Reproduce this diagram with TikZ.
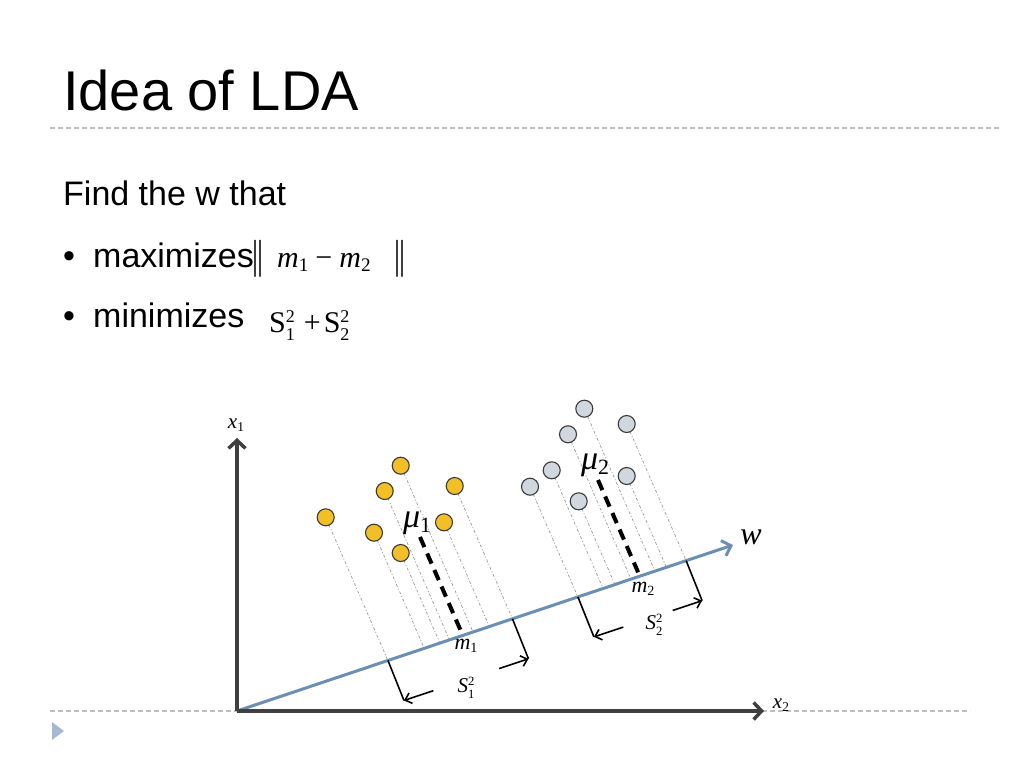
\documentclass[tikz,border=0pt]{standalone}
\usepackage{fontspec}
\setmainfont{Liberation Sans}
\newfontfamily\tms{Liberation Serif}
\usepackage{graphicx}
\usetikzlibrary{arrows.meta,calc}
\definecolor{dotc}{HTML}{9A9A9A}
\definecolor{ycol}{HTML}{F2BF26}
\definecolor{gcol}{HTML}{D0D7DF}
\definecolor{wcol}{HTML}{6A8FB3}
\definecolor{axc}{HTML}{404040}
\definecolor{sepc}{HTML}{BFBFBF}
\definecolor{tric}{HTML}{A6B9D2}
\definecolor{ptline}{HTML}{3A3A3A}
\newcommand\sbx[1]{\raisebox{-0.35ex}{\scalebox{0.64}{\upshape #1}}}
\newcommand\lss[3]{#1\raisebox{-0.6ex}{\scalebox{0.6}{\shortstack[l]{\upshape #3\\[0.22em]\upshape #2}}}}
\tikzset{
  txt/.style={anchor=base west,inner sep=0pt},
  body/.style={txt,font=\fontsize{34}{40}\selectfont},
  ypt/.style={circle,draw=ptline,fill=ycol,line width=1.1pt,minimum size=17pt,inner sep=0pt},
  gpt/.style={circle,draw=ptline,fill=gcol,line width=1.1pt,minimum size=17pt,inner sep=0pt},
  proj/.style={draw=dotc,line width=0.7pt,dash pattern=on 3pt off 2pt on 1pt off 2pt},
  mudash/.style={draw=black,line width=4pt,dash pattern=on 11pt off 7pt},
  axisline/.style={draw=axc,line width=3.5pt,-{Straight Barb[length=8pt,width=17pt]}},
  wline/.style={draw=wcol,line width=3pt,-{Straight Barb[length=8pt,width=16pt]}},
  brk/.style={draw=black,line width=1.6pt},
  brkarr/.style={draw=black,line width=1.6pt,-{Straight Barb[length=6pt,width=11pt]}},
  sepline/.style={draw=sepc,line width=1.2pt,dash pattern=on 5pt off 3pt},
  plbl/.style={inner sep=0pt,font=\tms\fontsize{21}{24}\selectfont\itshape},
}
\begin{document}
\begin{tikzpicture}[x=1pt,y=-1pt]
\useasboundingbox (0,0) rectangle (1024,768);
\fill[white] (0,0) rectangle (1024,768);
% title and separators
\node[txt,font=\fontsize{56}{60}\selectfont] (title) at (63,110) {Idea of LDA};
\draw[sepline] (50,128) -- (1000,128);
\draw[sepline] (50,711) -- (970,711);
\fill[tric] (52,722) -- (52,740) -- (64,731) -- cycle;
% text
\node[body] (find) at (63,205) {Find the w that};
\node[body] (bul1) at (63,267) {•};
\node[body] (max) at (93,267) {maximizes};
\node[inner sep=0pt,font=\tms\fontsize{30}{36}\selectfont] (nl) at (258,259) {\scalebox{1}[1.35]{|\kern-1.5pt|}};
\node[txt,font=\tms\fontsize{30}{36}\selectfont] (mm) at (277,267) {\itshape m\sbx{1}\upshape\hspace{7pt}−\hspace{7pt}\itshape m\sbx{2}};
\node[inner sep=0pt,font=\tms\fontsize{30}{36}\selectfont] (nr) at (400,259) {\scalebox{1}[1.35]{|\kern-1.5pt|}};
\node[body] (bul2) at (63,327) {•};
\node[body] (min) at (93,327) {minimizes};
\node[txt,font=\tms\fontsize{30}{36}\selectfont] (ss) at (269,332) {\lss{S}{1}{2}\hspace{9pt}+\hspace{3pt}\lss{S}{2}{2}};
% axes and w
\coordinate (O) at (237,711);
\coordinate (W) at (733,545);
\coordinate (X1) at (237,438);
\coordinate (X2) at (764,711);
% projection lines
\foreach \n/\px/\py in {y1/325.7/517.3, y2/400.7/465.7, y3/384.7/491, y4/454.7/486, y5/444/522.3, y6/374/532.7, y7/400.7/553,
  g1/584.3/408.7, g2/626.7/424, g3/568/434.3, g4/551.7/470.3, g5/530/486.7, g6/626.7/476, g7/578.7/501.3}{
  \coordinate (\n) at (\px,\py);
  \coordinate (\n d) at (\px+0.435,\py+1);
  \coordinate (\n f) at (intersection of \n--\n d and O--W);
  \draw[proj] (\n) -- (\n f);
}
% mean projections
\coordinate (mua) at (420,537);
\coordinate (muad) at (420.435,538);
\coordinate (muaf) at (intersection of mua--muad and O--W);
\coordinate (mub) at (598,480);
\coordinate (mubd) at (598.435,481);
\coordinate (mubf) at (intersection of mub--mubd and O--W);
\draw[mudash] (mua) -- ($(mua)!0.95!(muaf)$);
\draw[mudash] (mub) -- ($(mub)!0.96!(mubf)$);
\draw[wline] (O) -- (W);
\draw[axisline] (O) -- (X1);
\draw[axisline] (O) -- (X2);
% points
\foreach \n in {y1,y2,y3,y4,y5,y6,y7}{\node[ypt] (\n p) at (\n) {};}
\foreach \n in {g1,g2,g3,g4,g5,g6,g7}{\node[gpt] (\n p) at (\n) {};}
% brackets
\coordinate (b1l) at ($(y1f)+(16,40)$);
\coordinate (b1r) at ($(y4f)+(16,40)$);
\coordinate (b2l) at ($(g5f)+(16,40)$);
\coordinate (b2r) at ($(g2f)+(16,40)$);
\draw[brk] (y1f) -- (b1l);
\draw[brk] (y4f) -- (b1r);
\draw[brk] (g5f) -- (b2l);
\draw[brk] (g2f) -- (b2r);
\coordinate (a1l) at ($(b1l)+(29.4,-9.8)$);
\coordinate (a1r) at ($(b1r)+(-29.4,9.8)$);
\coordinate (a2l) at ($(b2l)+(29.4,-9.8)$);
\coordinate (a2r) at ($(b2r)+(-29.4,9.8)$);
\draw[brkarr] (a1l) -- (b1l);
\draw[brkarr] (a1r) -- (b1r);
\draw[brkarr] (a2l) -- (b2l);
\draw[brkarr] (a2r) -- (b2r);
% labels
\node[plbl] (x1l) at (236,425) {x\sbx{1}};
\node[plbl] (x2l) at (781,705) {x\sbx{2}};
\node[plbl,font=\tms\fontsize{32}{36}\selectfont\itshape] (wl) at (751,537) {w};
\node[plbl,font=\tms\fontsize{34}{40}\selectfont\itshape] (mu1l) at (417,523) {μ\sbx{1}};
\node[plbl,font=\tms\fontsize{34}{40}\selectfont\itshape] (mu2l) at (595,465) {μ\sbx{2}};
\node[plbl,font=\tms\fontsize{22}{26}\selectfont\itshape] (m1l) at (466,646) {m\sbx{1}};
\node[plbl,font=\tms\fontsize{22}{26}\selectfont\itshape] (m2l) at (643,589) {m\sbx{2}};
\node[plbl] (s1l) at (466,688) {\lss{S}{1}{2}};
\node[plbl] (s2l) at (654,625) {\lss{S}{2}{2}};
\end{tikzpicture}
\end{document}
